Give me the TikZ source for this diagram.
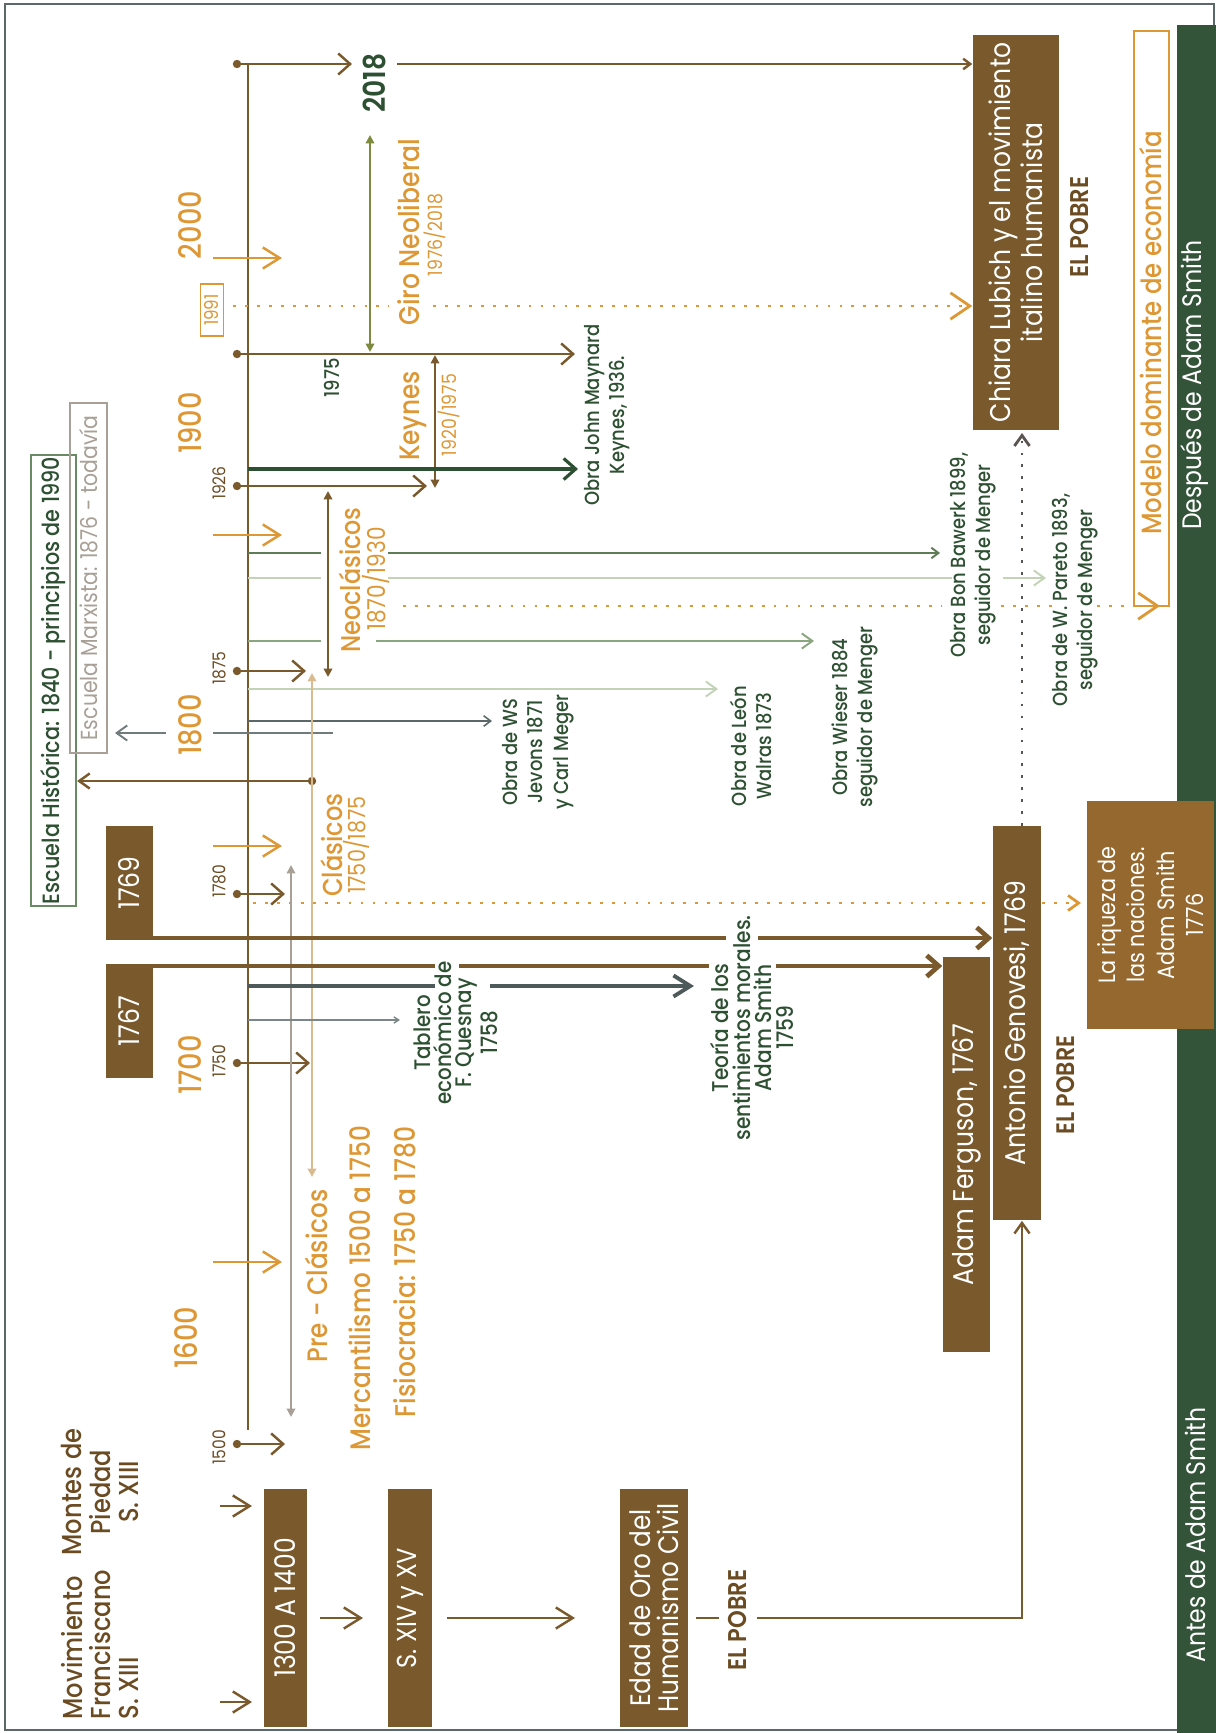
\documentclass[tikz,border=0pt]{standalone}
\usepackage{fontspec}
\setmainfont{Poppins}[FakeStretch=0.88]
\newfontfamily\medium{Poppins Medium}[FakeStretch=0.88]
\newfontfamily\semibold{Poppins SemiBold}[FakeStretch=0.88]
\usetikzlibrary{arrows.meta}
\usetikzlibrary{positioning}

\definecolor{brn}{HTML}{7A5A2D}
\definecolor{lightbrn}{HTML}{94682E}
\definecolor{txtbrn}{HTML}{6B4B22}
\definecolor{dkgreen}{HTML}{2E5032}
\definecolor{bargreen}{HTML}{34543A}
\definecolor{orng}{HTML}{DE9735}
\definecolor{olive}{HTML}{7E8B3F}
\definecolor{tanline}{HTML}{DABB90}
\definecolor{greybr}{HTML}{A8A096}
\definecolor{framegray}{HTML}{5C6868}
\definecolor{slate}{HTML}{4E5A5A}
\definecolor{midgreen}{HTML}{5E7D56}
\definecolor{palegreen}{HTML}{C2D3B7}
\definecolor{sagegreen}{HTML}{8AA67E}
\definecolor{histgreen}{HTML}{6A8A66}
\definecolor{dotgray}{HTML}{5A5550}

\begin{document}
\begin{tikzpicture}[
x=0.01cm, y=-0.01cm,
vtext/.style={rotate=90, align=center, inner sep=0pt},
box/.style={vtext, fill=brn, text=white, font=\fontsize{8.1}{7.8}\selectfont},
obra/.style={vtext, text=dkgreen, font=\medium\fontsize{5.8}{7.2}\selectfont},
libro/.style={vtext, text=dkgreen, font=\medium\fontsize{6.5}{6.1}\selectfont},
century/.style={vtext, text=orng, font=\medium\fontsize{8.8}{8.8}\selectfont},
school/.style={vtext, text=orng, font=\medium\fontsize{8}{8}\selectfont},
span/.style={vtext, text=orng, font=\fontsize{5.6}{5.6}\selectfont},
yearlbl/.style={vtext, text=txtbrn, font=\fontsize{5}{5}\selectfont},
pobre/.style={vtext, text=txtbrn, font=\semibold\fontsize{7.3}{7.3}\selectfont},
dot/.style={circle, fill=brn, inner sep=0pt, minimum size=2.4pt},
tline/.style={draw=brn, line width=0.7pt},
heavy/.style={draw=brn, line width=1.35pt},
dotline/.style={dash pattern=on 0.8pt off 2.6pt, line width=0.8pt},
bigV/.style={-{Straight Barb[length=3.4pt,width=6pt]}},
centV/.style={-{Straight Barb[length=4.8pt,width=6pt]}},
midV/.style={-{Straight Barb[length=3pt,width=4.3pt]}},
smallV/.style={-{Straight Barb[length=2pt,width=3pt]}},
tinyV/.style={-{Straight Barb[length=1.4pt,width=1.8pt]}},
dotV/.style={-{Straight Barb[length=5.5pt,width=7.5pt]}},
dblarrow/.style={{Triangle[length=2.4pt,width=2.4pt]}-{Triangle[length=2.4pt,width=2.4pt]}}
]
\useasboundingbox (0,0) rectangle (1216,1733);

% frame and side bar
\draw[framegray, line width=0.8pt] (5,4) rectangle (1214,1730);
\fill[bargreen] (1177,25) rectangle (1216,1733);
\node[vtext, text=white, font=\fontsize{7.6}{7.6}\selectfont] (despues) at (1195,385) {Después de Adam Smith};
\node[vtext, text=white, font=\fontsize{7.6}{7.6}\selectfont] (antes) at (1195,1535) {Antes de Adam Smith};

% right column
\node[box, minimum width=3.95cm, minimum height=0.86cm] (chiara) at (1016,232.5) {Chiara Lubich y el movimiento\\italino humanista};
\node[pobre] (pobre1) at (1079,227) {EL POBRE};
\node[draw=orng, line width=0.6pt, rotate=90, minimum width=5.75cm, minimum height=0.35cm] (modelo) at (1151.5,318.5) {};
\node[school, font=\medium\fontsize{7.9}{7.9}\selectfont] (modelotxt) at (1151,333) {Modelo dominante de economía};

% dotted lines under the boxes
\coordinate (r0) at (253,903);
\draw[orng, dotline, midV] (r0) -- (1081,903);
\coordinate (g0) at (1022,826);
\coordinate (g1) at (1022,433);
\draw[dotgray, dotline, midV] (g0) -- (g1);

\node[box, fill=lightbrn, minimum width=2.28cm, minimum height=1.27cm, font=\fontsize{6.7}{8.4}\selectfont] (riqueza) at (1150.5,915) {La riqueza de\\las naciones.\\Adam Smith\\1776};
\node[box, minimum width=3.94cm, minimum height=0.48cm] (genovesi) at (1017,1023) {Antonio Genovesi, 1769};
\node[box, minimum width=3.95cm, minimum height=0.47cm] (ferguson) at (966.5,1154.5) {Adam Ferguson, 1767};
\node[pobre, font=\semibold\fontsize{7.2}{7.2}\selectfont] (pobre2) at (1066,1085) {EL POBRE};

% schools on the left
\node[vtext, draw=histgreen, line width=0.6pt, minimum width=4.51cm, minimum height=0.45cm, text=dkgreen, font=\medium\fontsize{6.7}{6.7}\selectfont] (historica) at (53.5,680.5) {Escuela Histórica:  1840  -  principios de 1990};
\node[vtext, draw=greybr, line width=0.6pt, minimum width=3.5cm, minimum height=0.37cm, text=greybr, font=\fontsize{6.6}{6.6}\selectfont] (marxista) at (88.5,578) {Escuela Marxista:  1876  -  todavía};
\node[box, minimum width=1.14cm, minimum height=0.47cm] (b1769) at (129.5,883) {1769};
\node[box, minimum width=1.14cm, minimum height=0.47cm] (b1767) at (129.5,1021) {1767};

% time line
\coordinate (vtop) at (248,64);
\coordinate (vbot) at (248,1430);
\draw[tline] (vtop) -- (vbot);

\foreach \n/\y/\x in {2018/64/352, 1975/354/575, 1926/486/427, 1875/671/306, 1780/894/285, 1750/1063/310, 1500/1444/285} {
  \node[dot] (d\n) at (237,\y) {};
  \coordinate (e\n) at (\x,\y);
  \draw[tline, bigV] (d\n.center) -- (e\n);
}
\foreach \n/\y in {1926/483, 1875/668, 1780/881, 1750/1061, 1500/1447}
  \node[yearlbl] (y\n) at (219,\y) {\n};

% centuries
\foreach \y [count=\i] in {258,535,846,1262} {
  \coordinate (ca\i) at (213,\y);
  \coordinate (cb\i) at (282,\y);
  \draw[orng, line width=0.7pt, centV] (ca\i) -- (cb\i);
}
\node[century] (c2000) at (190,225) {2000};
\node[century] (c1900) at (190,423) {1900};
\node[century] (c1800) at (190,725) {1800};
\node[century] (c1700) at (190,1065) {1700};
\node[century] (c1600) at (186,1338) {1600};

% 2018 and neoliberal turn
\node[vtext, text=dkgreen, font=\semibold\fontsize{8.6}{8.6}\selectfont] (t2018) at (374,83) {2018};
\coordinate (s2018) at (397,64);
\draw[tline, smallV] (s2018) -- (chiara.north |- s2018);
\coordinate (giroA) at (370,135);
\coordinate (giroB) at (370,352);
\draw[olive, line width=0.7pt, dblarrow] (giroA) -- (giroB);
\node[school, font=\medium\fontsize{8.1}{8.1}\selectfont] (giro) at (409,232) {Giro Neoliberal};
\node[span] (giroyr) at (435,235) {1976/2018};
\node[vtext, text=dkgreen, font=\medium\fontsize{5.8}{5.8}\selectfont] (t1975) at (332,378) {1975};

% 1991
\node[vtext, draw=orng, line width=0.5pt, text=orng, minimum width=0.52cm, minimum height=0.23cm, font=\fontsize{5.4}{5.4}\selectfont] (y1991) at (212,310) {1991};
\coordinate (p1991a) at (233,306);
\coordinate (p1991b) at (389,306);
\coordinate (p1991c) at (433,306);
\draw[orng, dotline] (p1991a) -- (p1991b);
\draw[orng, dotline, dotV] (p1991c) -- (chiara.north |- p1991c);

% Keynes
\coordinate (keyA) at (435,355);
\coordinate (keyB) at (435,488);
\draw[tline, dblarrow] (keyA) -- (keyB);
\node[school] (keynes) at (413,416) {Keynes};
\node[span] (keyyr) at (449,415) {1920/1975};
\coordinate (k0) at (248,469);
\coordinate (k1) at (578,469);
\draw[dkgreen, line width=0.9pt, bigV] (k0) -- (k1);
\node[obra] (okeynes) at (607,415) {Obra John Maynard\\Keynes, 1936.};

% neoclassics
\coordinate (neoA) at (328,491);
\coordinate (neoB) at (328,677);
\draw[tline, dblarrow] (neoA) -- (neoB);
\node[school, font=\medium\fontsize{7.7}{7.7}\selectfont] (neo) at (350,580) {Neoclásicos};
\node[span, font=\fontsize{7}{7}\selectfont] (neoyr) at (376,579) {1870/1930};

\coordinate (bb0) at (248,553);
\coordinate (bb1) at (321,553);
\coordinate (bb2) at (388,553);
\coordinate (bb3) at (940,553);
\draw[midgreen, line width=0.55pt] (bb0) -- (bb1);
\draw[midgreen, line width=0.55pt, smallV] (bb2) -- (bb3);

\coordinate (pa0) at (248,578);
\coordinate (pa1) at (321,578);
\coordinate (pa2) at (388,578);
\coordinate (pa3) at (952,578);
\coordinate (pa4) at (1003,578);
\coordinate (pa5) at (1046,578);
\draw[palegreen, line width=0.55pt] (pa0) -- (pa1);
\draw[palegreen, line width=0.55pt] (pa2) -- (pa3);
\draw[palegreen, line width=0.55pt, midV] (pa4) -- (pa5);

\coordinate (md0) at (403,606);
\coordinate (md1) at (942,606);
\coordinate (md2) at (1001,606);
\coordinate (md3) at (1052,606);
\coordinate (md4) at (1097,606);
\coordinate (md5) at (1160,606);
\draw[orng, dotline] (md0) -- (md1);
\draw[orng, dotline] (md2) -- (md3);
\draw[orng, dotline, dotV] (md4) -- (md5);

\coordinate (wi0) at (248,641);
\coordinate (wi1) at (321,641);
\coordinate (wi2) at (376,641);
\coordinate (wi3) at (814,641);
\draw[sagegreen, line width=0.55pt] (wi0) -- (wi1);
\draw[sagegreen, line width=0.55pt, midV] (wi2) -- (wi3);

\coordinate (le0) at (248,689);
\coordinate (le1) at (718,689);
\draw[palegreen, line width=0.55pt, midV] (le0) -- (le1);

\coordinate (je0) at (248,721);
\coordinate (je1) at (492,721);
\draw[framegray, line width=0.45pt, smallV] (je0) -- (je1);

\coordinate (m0) at (333,733);
\coordinate (m1) at (213,733);
\coordinate (m2) at (166,733);
\coordinate (m3) at (115,733);
\draw[slate!80, line width=0.55pt] (m0) -- (m1);
\draw[slate!80, line width=0.55pt, midV] (m2) -- (m3);

\node[obra] (bawerk) at (973,555) {Obra Bon Bawerk 1899,\\seguidor de Menger};
\node[obra] (pareto) at (1075,600) {Obra de W. Pareto 1893,\\seguidor de Menger};
\node[obra] (wieser) at (855,717) {Obra Wieser 1884\\seguidor de Menger};
\node[obra] (leon) at (751,746) {Obra de León\\Walras 1873};
\node[obra] (jevons) at (538,752) {Obra de WS\\Jevons 1871\\y Carl Meger};

% classics
\node[dot] (dh) at (312,781) {};
\draw[tline, midV] (dh.center) -- (historica.south |- dh);
\coordinate (ta0) at (312,673);
\coordinate (ta1) at (312,1177);
\draw[tanline, line width=0.7pt, dblarrow] (ta0) -- (ta1);
\coordinate (gr0) at (291,865);
\coordinate (gr1) at (291,1417);
\draw[greybr, line width=0.7pt, dblarrow] (gr0) -- (gr1);
\node[school, font=\medium\fontsize{7.8}{7.8}\selectfont] (clasicos) at (332,845) {Clásicos};
\node[span, font=\fontsize{6.7}{6.7}\selectfont] (clasyr) at (356,845) {1750/1875};

% 1769 and 1767
\coordinate (s69a) at (153,938);
\coordinate (s69b) at (726,938);
\coordinate (s69c) at (758,938);
\draw[heavy] (s69a) -- (s69b);
\draw[heavy, bigV] (s69c) -- (genovesi.north |- s69c);
\coordinate (s67a) at (153,966);
\coordinate (s67b) at (435,966);
\coordinate (s67c) at (459,966);
\coordinate (s67d) at (709,966);
\coordinate (s67e) at (776,966);
\draw[heavy] (s67a) -- (s67b);
\draw[heavy] (s67c) -- (s67d);
\draw[heavy, bigV] (s67e) -- (ferguson.north |- s67e);
\coordinate (q0) at (248,986);
\coordinate (q1) at (435,986);
\coordinate (q2) at (490,986);
\coordinate (q3) at (694,986);
\draw[slate, line width=1.1pt] (q0) -- (q1);
\draw[slate, line width=1.1pt, centV] (q2) -- (q3);
\coordinate (t0) at (248,1020);
\coordinate (t1) at (400,1020);
\draw[framegray!80, line width=0.4pt, tinyV] (t0) -- (t1);

\node[libro, font=\medium\fontsize{6.4}{5.8}\selectfont] (tablero) at (456,1033) {Tablero\\económico de\\F. Quesnay\\1758};
\node[libro] (teoria) at (752,1028) {Teoría de los\\sentimientos morales.\\Adam Smith\\1759};

% pre-classics
\node[school] (preclas) at (316,1276) {Pre - Clásicos};
\node[school, font=\medium\fontsize{8}{8}\selectfont] (mercan) at (360,1288) {Mercantilismo 1500 a 1750};
\node[school, font=\medium\fontsize{8.1}{8.1}\selectfont] (fisio) at (405,1272) {Fisiocracia:  1750 a 1780};

% before Adam Smith
\node[vtext, align=left, anchor=west, text=txtbrn, font=\medium\fontsize{7.8}{8}\selectfont] (franc) at (100,1720) {Movimiento\\Franciscano\\S. XIII};
\node[vtext, text=txtbrn, font=\medium\fontsize{7.8}{8}\selectfont] (montes) at (100,1492) {Montes de\\Piedad\\S. XIII};
\coordinate (fr0) at (220,1702);
\coordinate (fr1) at (252,1702);
\coordinate (mo0) at (220,1506);
\coordinate (mo1) at (252,1506);
\draw[tline, centV] (fr0) -- (fr1);
\draw[tline, centV] (mo0) -- (mo1);

\node[box, minimum width=2.38cm, minimum height=0.43cm] (siglo1) at (285.5,1608) {1300 A 1400};
\node[box, minimum width=2.38cm, minimum height=0.44cm, font=\fontsize{7.8}{7.8}\selectfont] (siglo2) at (410,1608) {S. XIV y XV};
\node[box, minimum width=2.38cm, minimum height=0.68cm, font=\fontsize{8}{7.8}\selectfont] (edad) at (654,1608) {Edad de Oro del\\Humanismo Civil};
\node[pobre] (pobre3) at (737,1620) {EL POBRE};

\coordinate (a0) at (320,1618);
\coordinate (a1) at (363,1618);
\coordinate (b0) at (447,1618);
\coordinate (b1) at (575,1618);
\draw[tline, centV] (a0) -- (a1);
\draw[tline, centV] (b0) -- (b1);
\coordinate (e0) at (696,1618);
\coordinate (e1) at (719,1618);
\coordinate (e2) at (757,1618);
\coordinate (e3) at (1022,1618);
\draw[tline] (e0) -- (e1);
\draw[tline, midV] (e2) -- (e3) -- (genovesi.west -| e3);
\end{tikzpicture}
\end{document}
